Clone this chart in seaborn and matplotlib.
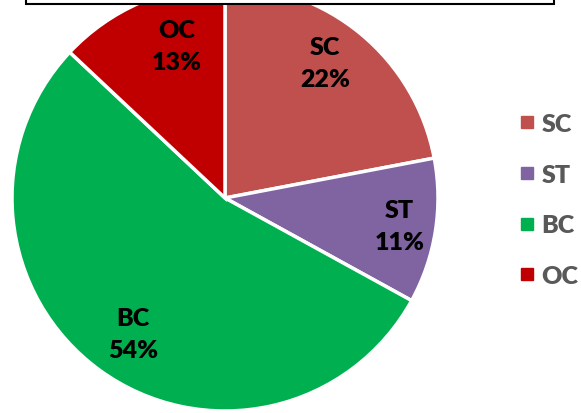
import numpy as np
import matplotlib
matplotlib.use('Agg')
import matplotlib.pyplot as plt
import matplotlib.patches as mpatches
from matplotlib.lines import Line2D
import seaborn as sns

# data
categories = ['SC', 'ST', 'BC', 'OC']
shares = [22, 11, 54, 13]
colors = ['#C0504D', '#8064A2', '#00B050', '#C00000']

# label placement tweaks (radius fraction, angle nudge in degrees)
label_radius = [0.79, 0.83, 0.77, 0.75]
label_nudge = [3, 0, 2, -6]

sns.set_theme(style='white')
plt.rcParams['font.family'] = ['Lato', 'DejaVu Sans']

W, H = 581, 414
fig = plt.figure(figsize=(W / 100, H / 100), dpi=100)

# pie centre (225, 199) px from top-left, radius 213 px
cx, cy, r = 225, 199, 213
ax = fig.add_axes([(cx - r) / W, (H - cy - r) / H, 2 * r / W, 2 * r / H])
wedges, _ = ax.pie(shares, colors=colors, startangle=90, counterclock=False,
                   radius=1, wedgeprops=dict(edgecolor='white', linewidth=2.5))
ax.set_xlim(-1, 1)
ax.set_ylim(-1, 1)
ax.set_aspect('equal')
ax.axis('off')

for w, cat, val, rr, nd in zip(wedges, categories, shares, label_radius, label_nudge):
    mid = np.deg2rad((w.theta1 + w.theta2) / 2 + nd)
    ax.text(rr * np.cos(mid), rr * np.sin(mid), f'{cat}\n{val}%',
            ha='center', va='center', fontsize=18, fontweight='heavy',
            color='black', linespacing=1.55)

# legend
handles = [Line2D([0], [0], marker='s', linestyle='', markersize=8,
                  markerfacecolor=c, markeredgecolor=c) for c in colors]
leg = fig.legend(handles, categories, loc='center left', bbox_to_anchor=(504 / W, 1 - 201 / H),
                 frameon=False, fontsize=18, labelcolor='#595959',
                 handlelength=0.8, handletextpad=0.2, labelspacing=1.15, borderpad=0)
for t in leg.get_texts():
    t.set_fontweight('heavy')

# title box cut at the top
box = mpatches.Rectangle((26 / W, 1 - 5 / H), (554 - 26) / W, 40 / H, transform=fig.transFigure,
                         facecolor='white', edgecolor='black', linewidth=1.5, zorder=10)
fig.patches.append(box)

fig.savefig('out.png', dpi=100)
